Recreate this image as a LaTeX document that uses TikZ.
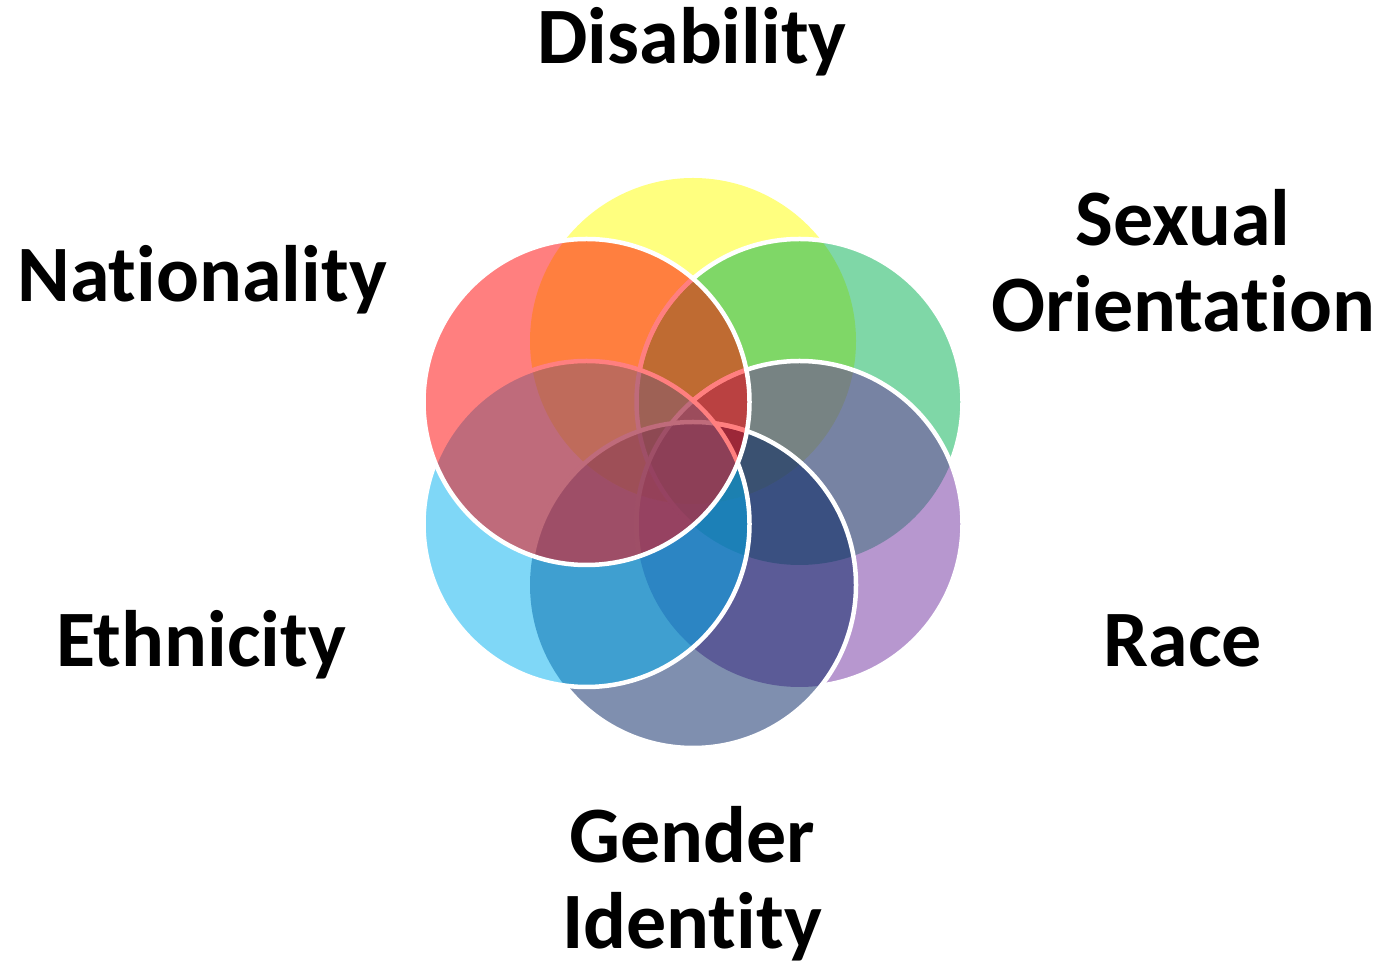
\documentclass[tikz,border=0pt]{standalone}
\usepackage{fontspec}
\setmainfont{Carlito}[Ligatures=NoCommon]
\definecolor{cYellow}{HTML}{FFFF00}
\definecolor{cGreen}{HTML}{00B050}
\definecolor{cPurple}{HTML}{7030A0}
\definecolor{cNavy}{HTML}{002060}
\definecolor{cBlue}{HTML}{00B0F0}
\definecolor{cRed}{HTML}{FF0000}
\tikzset{
  disc/.style={fill opacity=0.5},
  rim/.style={draw=white, line width=4.5pt},
  lbl/.style={font=\bfseries\fontsize{80}{86}\selectfont, inner sep=0pt, anchor=base, align=center, text=black}
}
\newcommand{\outsideclip}[1]{\clip (-10,-10) -- (-10,980) -- (1390,980) -- (1390,-10) -- cycle (#1) circle[radius=163pt];}
\begin{document}
\begin{tikzpicture}[x=1pt,y=1pt]
\useasboundingbox (0,0) rectangle (1380,966);
\coordinate (cy) at (693,625);
\coordinate (cg) at (799.5,564);
\coordinate (cp) at (799.5,442);
\coordinate (cn) at (693,381);
\coordinate (cb) at (586.5,442);
\coordinate (cr) at (586.5,564);
% yellow
\fill[cYellow, disc] (cy) circle[radius=163pt];
% green
\fill[cGreen, disc] (cg) circle[radius=163pt];
\begin{scope}
  \outsideclip{cp}\outsideclip{cn}\outsideclip{cb}
  \draw[rim] (cg) circle[radius=163pt];
\end{scope}
\begin{scope}
  \clip (cr) circle[radius=163pt];
  \draw[rim] (cg) circle[radius=163pt];
\end{scope}
% purple
\fill[cPurple, disc] (cp) circle[radius=163pt];
\begin{scope}
  \outsideclip{cn}\outsideclip{cb}
  \draw[rim] (cp) circle[radius=163pt];
\end{scope}
\begin{scope}
  \clip (cr) circle[radius=163pt];
  \draw[rim] (cp) circle[radius=163pt];
\end{scope}
% navy
\fill[cNavy, disc] (cn) circle[radius=163pt];
\begin{scope}
  \outsideclip{cb}
  \draw[rim] (cn) circle[radius=163pt];
\end{scope}
\begin{scope}
  \clip (cr) circle[radius=163pt];
  \draw[rim] (cn) circle[radius=163pt];
\end{scope}
% blue
\fill[cBlue, disc] (cb) circle[radius=163pt];
\draw[rim] (cb) circle[radius=163pt];
% red
\fill[cRed, disc] (cr) circle[radius=163pt];
\draw[rim] (cr) circle[radius=163pt];
% labels
\node[lbl] (dis) at (692,902) {Disability};
\node[lbl] (nat) at (202,664) {Nationality};
\node[lbl] (sex) at (1183,634) {Sexual\\Orientation};
\node[lbl] (eth) at (201,299) {Ethnicity};
\node[lbl] (race) at (1183,299) {Race};
\node[lbl] (gen) at (692,18) {Gender\\Identity};
\end{tikzpicture}
\end{document}
